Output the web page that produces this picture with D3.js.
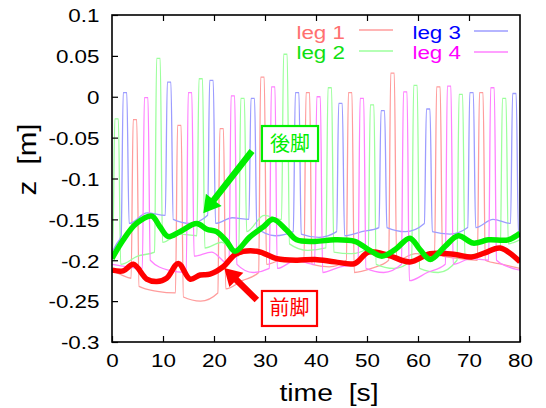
<!DOCTYPE html>
<html>
<head>
<meta charset="utf-8">
<style>
    body { margin: 0; background: #fff; }
    svg { font-family: "Liberation Sans", Arial, sans-serif; }
    .tick text { font-size: 19px; fill: #000; }
    .tick line { stroke: #000; stroke-width: 1.2; }
    .axis-title { font-size: 24px; white-space: pre; }
    .leg-label { font-size: 19px; }
    .jp { font-family: "Noto Sans CJK JP", sans-serif; font-size: 20px; }
</style>
</head>
<body>
<svg width="546" height="408"></svg>
<script src="https://d3js.org/d3.v7.min.js"></script>
<script>
// ---- data ----
let xTicks = [0, 10, 20, 30, 40, 50, 60, 70, 80]
let yTicks = [0.1, 0.05, 0, -0.05, -0.1, -0.15, -0.2, -0.25, -0.3]
let legNames = ["leg 1", "leg 2", "leg 3", "leg 4"]

// swing peaks of each leg (time, height) and stance levels
// (after touchdown / mid stance / before lift-off)
let leg1PeakT = [4.5, 13.2, 21.5, 29.5, 38.4, 46.7, 55.0, 64.0, 72.4]
let leg1PeakZ = [-0.028, -0.035, -0.039, 0.024, 0.005, 0.005, 0.029, 0.012, 0.005]
let leg1StanceA = [-0.212, -0.232, -0.245, -0.235, -0.205, -0.205, -0.215, -0.200, -0.195, -0.200]
let leg1StanceM = [-0.218, -0.238, -0.250, -0.225, -0.198, -0.208, -0.210, -0.192, -0.198, -0.205]
let leg1StanceB = [-0.222, -0.240, -0.240, -0.215, -0.200, -0.200, -0.200, -0.195, -0.200, -0.210]

let leg2PeakT = [0.9, 9.1, 17.4, 25.6, 34.0, 42.7, 51.0, 59.5, 68.4, 76.9]
let leg2PeakZ = [-0.027, 0.047, 0.022, -0.002, 0.052, 0.011, -0.010, 0.014, 0.003, -0.002]
let leg2StanceA = [-0.190, -0.205, -0.178, -0.185, -0.165, -0.180, -0.190, -0.205, -0.210, -0.195, -0.180]
let leg2StanceM = [-0.190, -0.195, -0.168, -0.178, -0.145, -0.188, -0.192, -0.210, -0.215, -0.190, -0.178]
let leg2StanceB = [-0.190, -0.190, -0.170, -0.195, -0.150, -0.185, -0.185, -0.200, -0.200, -0.185, -0.175]

let leg3PeakT = [2.55, 11.2, 19.5, 27.6, 36.3, 44.8, 53.1, 62.0, 70.5, 78.9]
let leg3PeakZ = [0.005, 0.018, 0.020, -0.002, 0.005, -0.008, -0.017, -0.015, 0.005, 0.004]
let leg3StanceA = [-0.190, -0.155, -0.150, -0.155, -0.160, -0.168, -0.170, -0.160, -0.165, -0.160, -0.170]
let leg3StanceM = [-0.180, -0.142, -0.155, -0.148, -0.170, -0.172, -0.165, -0.165, -0.168, -0.150, -0.170]
let leg3StanceB = [-0.170, -0.145, -0.145, -0.150, -0.165, -0.165, -0.160, -0.155, -0.160, -0.155, -0.170]

let leg4PeakT = [6.7, 15.3, 23.7, 31.6, 40.5, 49.0, 57.5, 66.1, 74.6]
let leg4PeakZ = [-0.001, 0.005, 0.001, 0.012, 0.000, -0.002, 0.006, 0.013, 0.011]
let leg4StanceA = [-0.205, -0.200, -0.195, -0.205, -0.210, -0.215, -0.210, -0.225, -0.205, -0.200]
let leg4StanceM = [-0.208, -0.212, -0.190, -0.215, -0.200, -0.208, -0.215, -0.215, -0.198, -0.208]
let leg4StanceB = [-0.210, -0.215, -0.205, -0.210, -0.205, -0.205, -0.205, -0.205, -0.200, -0.212]

// smoothed averages
let hindT = [0, 2.2, 4.8, 7.8, 9.4, 11.0, 13.3, 16.6, 18.6, 20.5, 22.5, 24.1, 27.1, 29.7, 31.6, 34.2, 36.2, 39.8, 43.7, 47.6, 50.3, 52.9, 55.5, 58.4, 60.4, 62.4, 65.3, 67.9, 70.8, 73.8, 77.7, 80]
let hindZ = [-0.198, -0.175, -0.155, -0.146, -0.159, -0.171, -0.165, -0.155, -0.162, -0.165, -0.177, -0.189, -0.171, -0.159, -0.150, -0.163, -0.175, -0.177, -0.175, -0.177, -0.187, -0.195, -0.187, -0.173, -0.187, -0.199, -0.183, -0.170, -0.179, -0.175, -0.175, -0.167]
let foreT = [0, 2.2, 4.2, 6.8, 8.8, 10.7, 13.0, 15.3, 17.3, 19.2, 21.8, 24.4, 28.4, 32.3, 36.2, 39.8, 43.7, 47.6, 50.3, 54.2, 58.4, 62.4, 67.3, 70.5, 73.1, 76.1, 80]
let foreZ = [-0.212, -0.213, -0.205, -0.223, -0.226, -0.222, -0.204, -0.223, -0.218, -0.217, -0.208, -0.192, -0.189, -0.198, -0.200, -0.199, -0.202, -0.204, -0.190, -0.194, -0.202, -0.192, -0.193, -0.196, -0.191, -0.185, -0.202]

let hindLabel = "後脚"
let foreLabel = "前脚"

// ---- layout ----
let margin = { top: 15, right: 26, bottom: 66, left: 112 }
let width = 546, height = 408
let stretch = 1.18   // the original lettering is a bit wide
let svg = d3.select("svg")

let x = d3.scaleLinear().domain([0, 80]).range([margin.left, width - margin.right])
let y = d3.scaleLinear().domain([-0.3, 0.1]).range([height - margin.bottom, margin.top])

let legColors = ["#ff9c9c", "#9cff9c", "#9c9cff", "#ff80ff"]
let legTextColors = ["#ff7070", "#10e010", "#0000ff", "#ff00ff"]

svg.append("clipPath").attr("id", "plot-clip")
    .append("rect")
    .attr("x", x(0)).attr("y", y(0.1))
    .attr("width", x(80) - x(0)).attr("height", y(-0.3) - y(0.1))

// build a leg trace from its peaks and stance levels
function legTrace(peakT, peakZ, stanceA, stanceM, stanceB) {
    let rise = 0.75, top = 0.35, fall = 0.8
    let pts = [[0, stanceA[0]]]
    peakT.forEach((t, i) => {
        let prev = i == 0 ? 0 : peakT[i - 1] + fall
        if (i > 0 || t - rise > 1) pts.push([(prev + t - rise) / 2, stanceM[i]])
        pts.push([t - rise, stanceB[i]])
        pts.push([t - top, peakZ[i]])
        pts.push([t + top, peakZ[i]])
        pts.push([t + fall, stanceA[i + 1]])
    })
    let n = peakT.length
    pts.push([(peakT[n - 1] + fall + 80) / 2, stanceM[n]])
    pts.push([80, stanceB[n]])
    return pts.filter(p => p[0] >= 0)
}

let legs = [
    legTrace(leg1PeakT, leg1PeakZ, leg1StanceA, leg1StanceM, leg1StanceB),
    legTrace(leg2PeakT, leg2PeakZ, leg2StanceA, leg2StanceM, leg2StanceB),
    legTrace(leg3PeakT, leg3PeakZ, leg3StanceA, leg3StanceM, leg3StanceB),
    legTrace(leg4PeakT, leg4PeakZ, leg4StanceA, leg4StanceM, leg4StanceB)
]

let line = d3.line().x(d => x(d[0])).y(d => y(d[1])).curve(d3.curveMonotoneX)
let smooth = d3.line().x(d => x(d[0])).y(d => y(d[1])).curve(d3.curveCatmullRom)

let plot = svg.append("g").attr("clip-path", "url(#plot-clip)")

plot.selectAll(".leg")
    .data(legs)
    .join("path")
    .attr("class", "leg")
    .attr("fill", "none")
    .attr("stroke", (d, i) => legColors[i])
    .attr("stroke-width", 1.3)
    .attr("d", line)

plot.append("path")
    .attr("fill", "none")
    .attr("stroke", "#ff0000")
    .attr("stroke-width", 5.5)
    .attr("stroke-linejoin", "round")
    .attr("d", smooth(d3.zip(foreT, foreZ)))

plot.append("path")
    .attr("fill", "none")
    .attr("stroke", "#00ee00")
    .attr("stroke-width", 5.5)
    .attr("stroke-linejoin", "round")
    .attr("d", smooth(d3.zip(hindT, hindZ)))

// axes
let xAxis = svg.append("g")
    .attr("transform", `translate(0, ${y(-0.3)})`)
    .call(d3.axisBottom(x).tickValues(xTicks).tickSizeInner(-6).tickSizeOuter(0).tickPadding(12).tickFormat(d => d))
xAxis.select(".domain").remove()
xAxis.selectAll(".tick text").attr("transform", `scale(${stretch},1)`)

let xTop = svg.append("g")
    .attr("transform", `translate(0, ${y(0.1)})`)
    .call(d3.axisTop(x).tickValues(xTicks.slice(1, -1)).tickSizeInner(-6).tickSizeOuter(0).tickFormat(""))
xTop.select(".domain").remove()

let yAxis = svg.append("g")
    .attr("transform", `translate(${x(0)}, 0)`)
    .call(d3.axisLeft(y).tickValues(yTicks).tickSizeInner(-6).tickSizeOuter(0).tickPadding(12)
        .tickFormat(d => String(+d.toFixed(2))))
yAxis.select(".domain").remove()
yAxis.selectAll(".tick text")
    .attr("dy", "0.36em")
    .attr("x", -12.5 / stretch)
    .attr("transform", `scale(${stretch},1)`)

svg.append("rect")
    .attr("x", x(0)).attr("y", y(0.1))
    .attr("width", x(80) - x(0)).attr("height", y(-0.3) - y(0.1))
    .attr("fill", "none").attr("stroke", "#000").attr("stroke-width", 1.6)

svg.append("g")
    .attr("transform", `translate(${(x(0) + x(80)) / 2 + 13}, 401) scale(${stretch},1)`)
    .append("text")
    .attr("class", "axis-title")
    .attr("text-anchor", "middle")
    .text("time  [s]")

svg.append("g")
    .attr("transform", `translate(36, ${(y(0.1) + y(-0.3)) / 2 - 19}) rotate(-90) scale(${stretch},1)`)
    .append("text")
    .attr("class", "axis-title")
    .style("font-size", "25px")
    .attr("text-anchor", "middle")
    .text("z  [m]")

// legend
let legendPos = [
    { tx: 345, ty: 39, lx: 359, ly: 30 },
    { tx: 345, ty: 59, lx: 359, ly: 51 },
    { tx: 461, ty: 39, lx: 474, ly: 31 },
    { tx: 461, ty: 59, lx: 474, ly: 52 }
]
legNames.forEach((name, i) => {
    let p = legendPos[i]
    svg.append("g")
        .attr("transform", `translate(${p.tx}, ${p.ty}) scale(${stretch},1)`)
        .append("text")
        .attr("class", "leg-label")
        .attr("text-anchor", "end")
        .attr("fill", legTextColors[i])
        .text(name)
    svg.append("line")
        .attr("x1", p.lx).attr("x2", p.lx + 34)
        .attr("y1", p.ly).attr("y2", p.ly)
        .attr("stroke", legColors[i]).attr("stroke-width", 1.3)
})

// annotations: arrow + boxed label
function arrow(x0, y0, x1, y1, color) {
    let dx = x1 - x0, dy = y1 - y0
    let len = Math.sqrt(dx * dx + dy * dy)
    let ux = dx / len, uy = dy / len
    let nx = -uy, ny = ux
    let headLen = 17, headW = 10, shaftW = 3.2
    let bx = x1 - ux * headLen, by = y1 - uy * headLen
    let pts = [
        [x0 + nx * shaftW, y0 + ny * shaftW],
        [bx + nx * shaftW, by + ny * shaftW],
        [bx + nx * headW, by + ny * headW],
        [x1, y1],
        [bx - nx * headW, by - ny * headW],
        [bx - nx * shaftW, by - ny * shaftW],
        [x0 - nx * shaftW, y0 - ny * shaftW]
    ]
    svg.append("polygon")
        .attr("points", pts.map(p => p.join(",")).join(" "))
        .attr("fill", color)
}

function boxLabel(t0, t1, z0, z1, label, color) {
    svg.append("rect")
        .attr("x", x(t0)).attr("y", y(z0))
        .attr("width", x(t1) - x(t0)).attr("height", y(z1) - y(z0))
        .attr("fill", "#fff").attr("stroke", color).attr("stroke-width", 2.2)
    svg.append("text")
        .attr("class", "jp")
        .attr("x", (x(t0) + x(t1)) / 2)
        .attr("y", (y(z0) + y(z1)) / 2 + 7)
        .attr("text-anchor", "middle")
        .attr("fill", color)
        .text(label)
}

arrow(x(27.45), y(-0.0664), x(17.9), y(-0.1426), "#00ee00")
boxLabel(29.4, 40.4, -0.0358, -0.0786, hindLabel, "#00ee00")
arrow(x(28.4), y(-0.2486), x(22.0), y(-0.2095), "#ff0000")
boxLabel(29.4, 40.2, -0.2376, -0.2804, foreLabel, "#ff0000")
</script>
</body>
</html>
